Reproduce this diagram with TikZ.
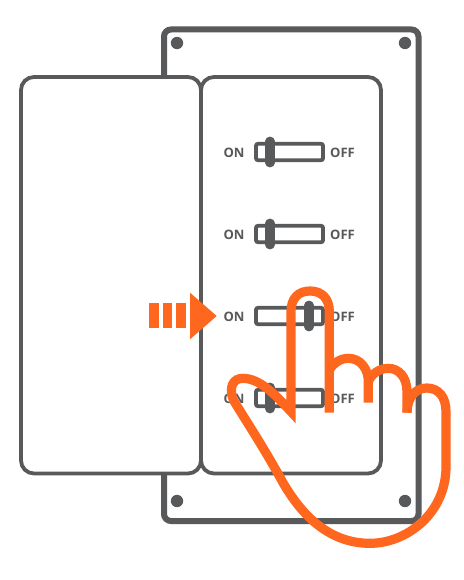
\documentclass[tikz,border=0pt]{standalone}
\usepackage{fontspec}
\setmainfont{Open Sans}
\definecolor{gr}{HTML}{58595B}
\definecolor{og}{HTML}{FF671F}
\tikzset{
  plate/.style={draw=gr,line width=6pt,rounded corners=7pt},
  panel/.style={draw=gr,line width=3.8pt,rounded corners=13pt,fill=white},
  screw/.style={fill=gr},
  track/.style={draw=gr,line width=3.8pt,rounded corners=2pt,fill=white},
  knob/.style={draw=gr,line width=9.4pt,line cap=round},
  lbl/.style={text=gr,font=\bfseries\fontsize{13}{13}\selectfont,inner sep=0pt,anchor=center},
  hand/.style={draw=og,line width=9.2pt,line join=miter,miter limit=12},
}
\begin{document}
\begin{tikzpicture}[x=1pt,y=-1pt]
\useasboundingbox (0,0) rectangle (463,580);
\fill[white] (0,0) rectangle (463,580);
% back plate
\draw[plate] (164,29.5) rectangle (418.5,521);
\foreach \p in {(177,43),(405,43),(177,501),(405,501)} \fill[screw] \p circle (6.2);
% panels
\draw[panel] (21,77) rectangle (201,473.5);
\draw[panel] (201,77) rectangle (381,473.5);
% switches
\foreach \y/\k/\i in {152/270/a,234/270/b,316/309/c,398/270/d}{
  \draw[track] (256,\y-8.2) rectangle (323,\y+8.2);
  \draw[knob] (\k,\y-10.7) -- (\k,\y+10.7);
  \node[lbl] (on\i) at (234,\y+0.8) {ON};
  \node[lbl] (off\i) at (342.5,\y+0.8) {OFF};
}
% arrow
\fill[og] (149,303.3) rectangle (158.5,328.3);
\fill[og] (162.5,303.3) rectangle (172.3,328.3);
\fill[og] (176,303.3) rectangle (185.7,328.3);
\fill[og] (190,292.7) -- (216.7,316) -- (190,339.3) -- cycle;
% hand
\begin{scope}[xshift=140pt,yshift=-270pt,x=0.33333pt,y=-0.33333pt]
\draw[hand] (568,428) -- (568,125)
  .. controls (568,85) and (545,63) .. (510,63)
  .. controls (475,63) and (453,85) .. (453,125)
  -- (453,425)
  .. controls (415,385) and (365,326) .. (310,325)
  .. controls (280,324) and (265,350) .. (280,390)
  .. controls (310,440) and (370,530) .. (430,640)
  .. controls (480,725) and (560,820) .. (690,820)
  .. controls (800,820) and (918,730) .. (918,590)
  -- (918,425)
  .. controls (918,380) and (895,354) .. (860,354)
  .. controls (825,354) and (801,385) .. (801,428);
\draw[hand] (801,428) -- (801,365)
  .. controls (801,320) and (775,295) .. (745,295)
  .. controls (720,295) and (695,310) .. (685,335);
\draw[hand] (685,398) -- (685,335)
  .. controls (685,295) and (660,265) .. (625,265)
  .. controls (600,265) and (580,280) .. (568,300);
\end{scope}
\end{tikzpicture}
\end{document}
